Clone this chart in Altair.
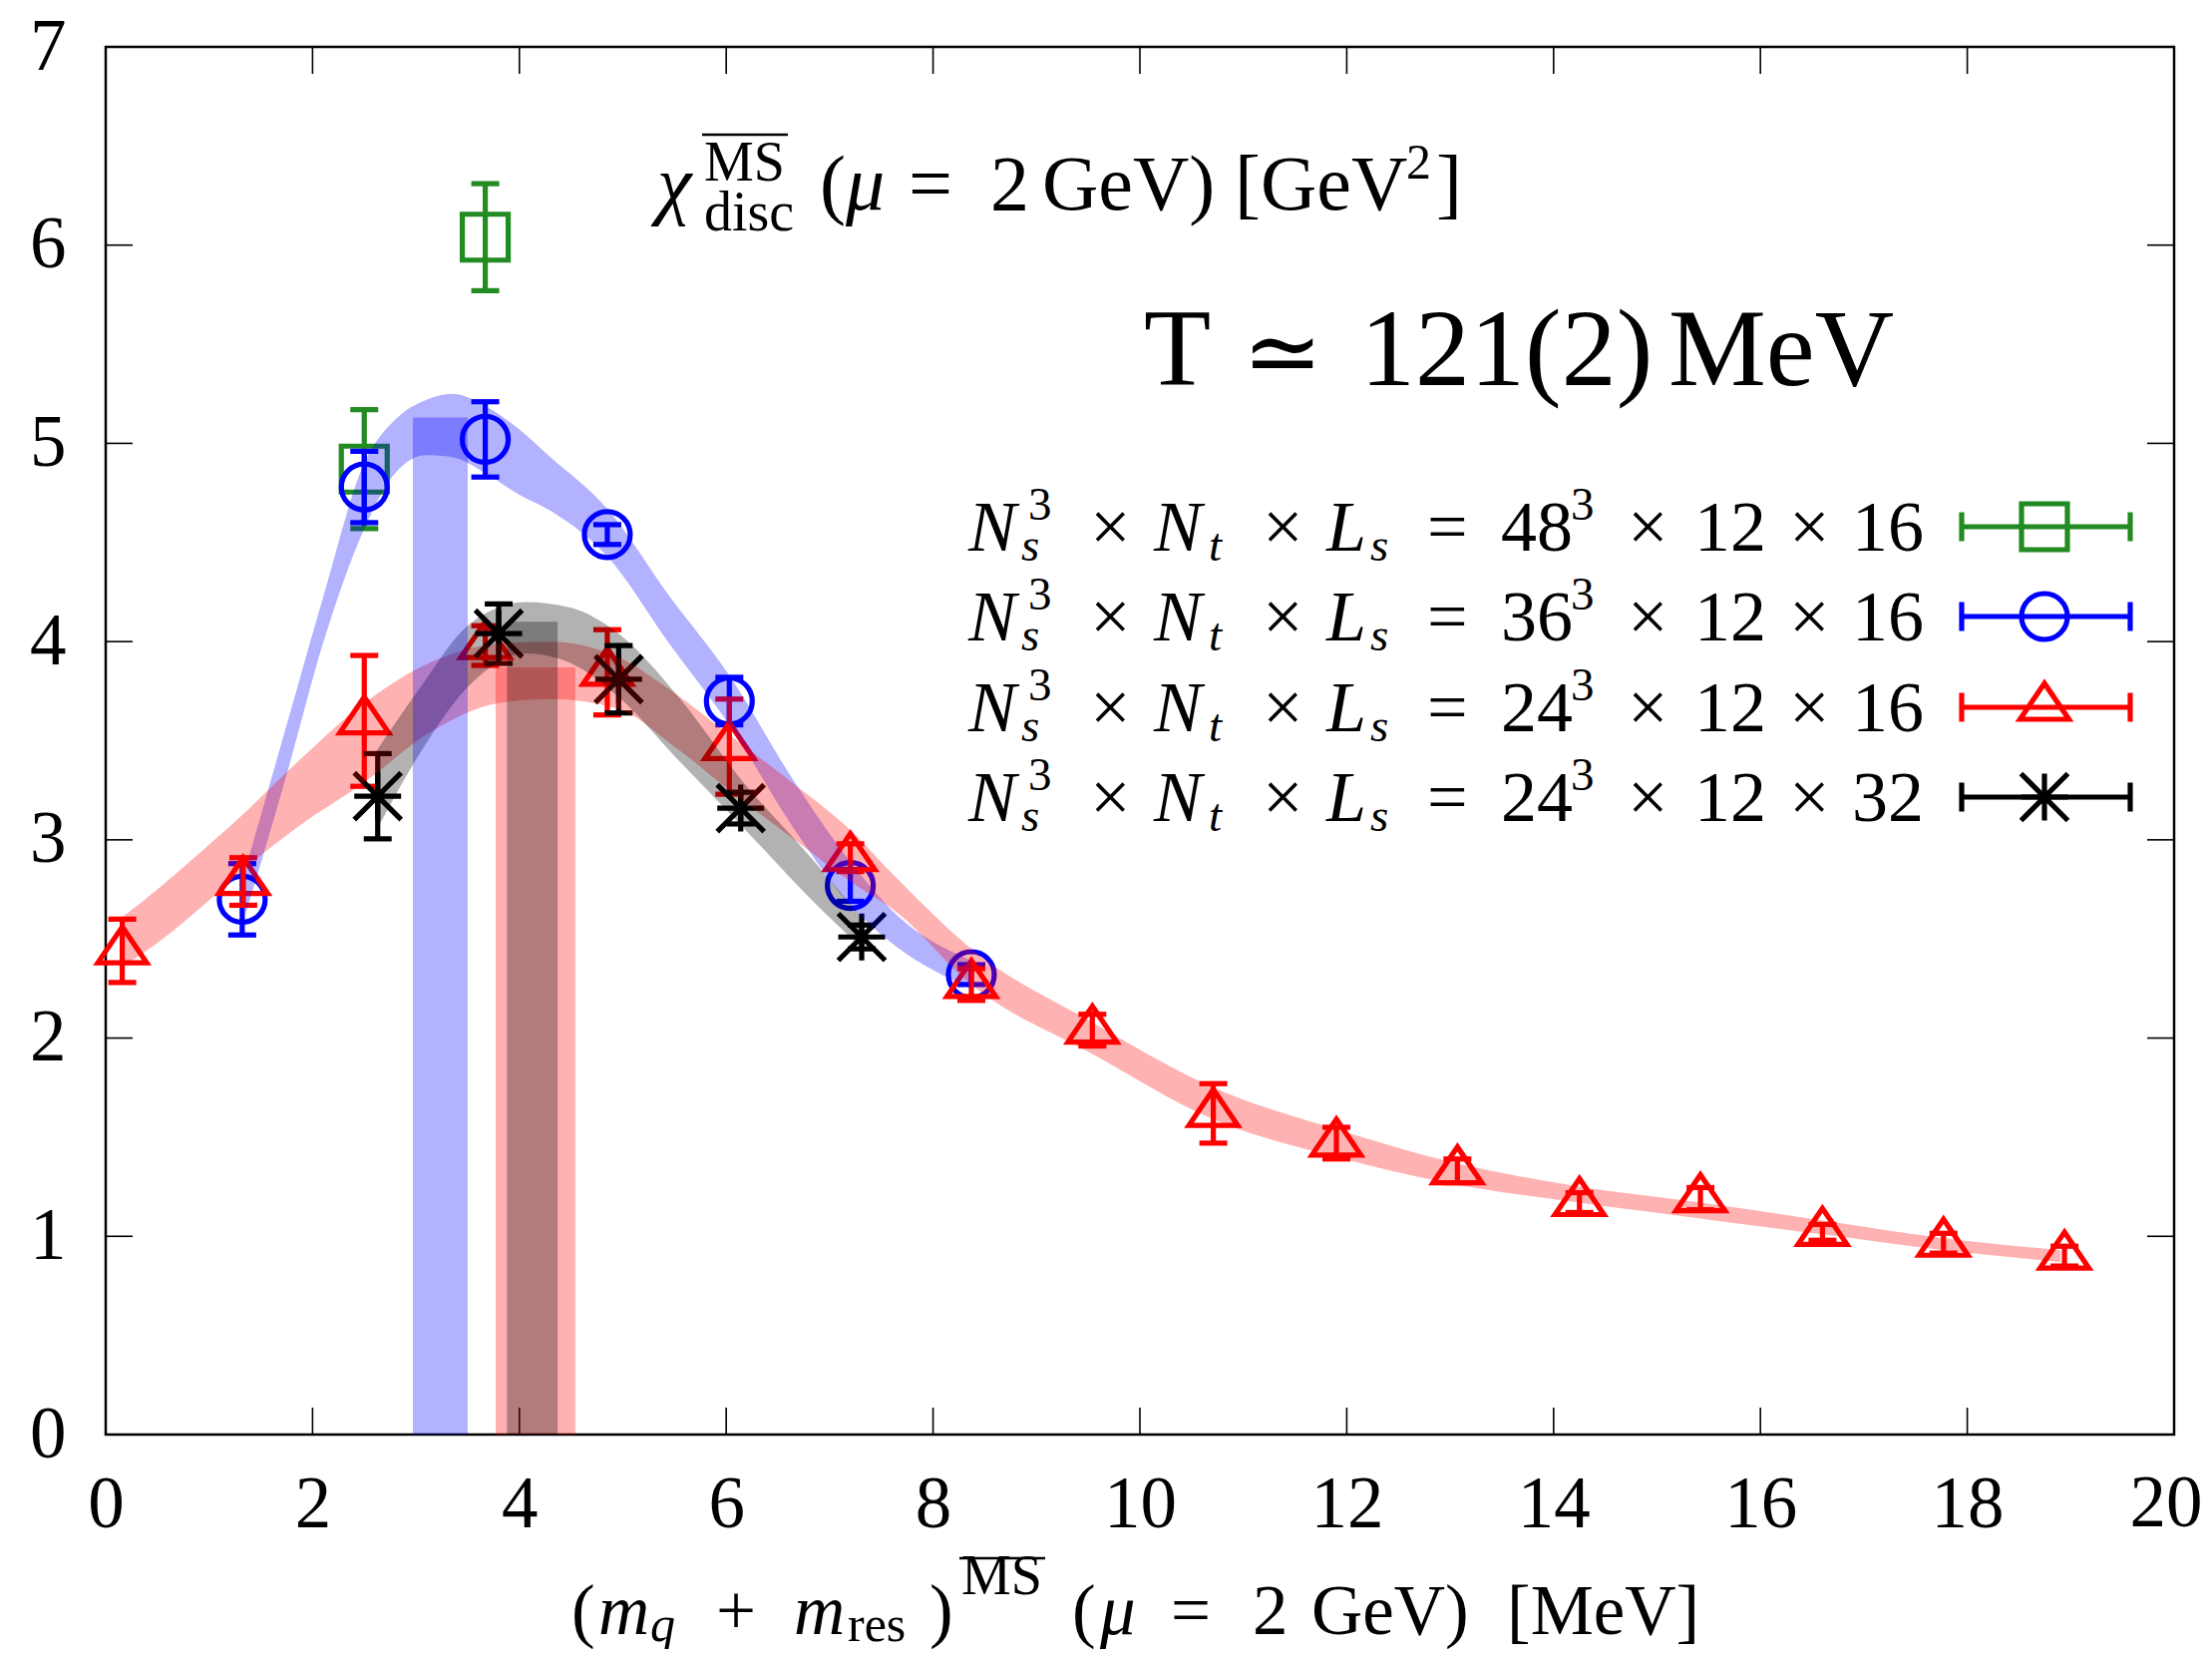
import altair as alt
import pandas as pd

# ---------------- data ----------------
x_ticks = [0, 2, 4, 6, 8, 10, 12, 14, 16, 18, 20]
y_ticks = [0, 1, 2, 3, 4, 5, 6, 7]

# N_s^3 x N_t x L_s = 48^3 x 12 x 16 (green squares)
g_x = [2.50, 3.67]
g_y = [4.87, 6.04]
g_e = [0.30, 0.27]

# 36^3 x 12 x 16 (blue circles)
b_x = [1.32, 2.50, 3.67, 4.85, 6.03, 7.20, 8.37]
b_y = [2.70, 4.78, 5.02, 4.54, 3.70, 2.77, 2.32]
b_e = [0.18, 0.18, 0.19, 0.05, 0.12, 0.08, 0.05]

# 24^3 x 12 x 16 (red triangles)
r_x = [0.16, 1.33, 2.50, 3.67, 4.85, 6.03, 7.20, 8.37, 9.54, 10.71, 11.90,
       13.07, 14.25, 15.42, 16.60, 17.77, 18.94]
r_y = [2.44, 2.79, 3.60, 3.98, 3.845, 3.47, 2.91, 2.27, 2.04, 1.62, 1.47,
       1.33, 1.17, 1.19, 1.02, 0.965, 0.90]
r_e = [0.16, 0.12, 0.33, 0.10, 0.215, 0.24, 0.07, 0.08, 0.08, 0.15, 0.08,
       0.06, 0.05, 0.056, 0.04, 0.05, 0.05]

# 24^3 x 12 x 32 (black stars)
k_x = [2.63, 3.80, 4.96, 6.14, 7.31]
k_y = [3.22, 4.04, 3.81, 3.16, 2.51]
k_e = [0.215, 0.15, 0.17, 0.08, 0.06]

# fit bands (lower / upper edges)
bb_x = [1.35, 1.75, 2.10, 2.50, 2.80, 3.10, 3.35, 3.70, 4.00, 4.30, 4.85,
        5.45, 6.03, 6.65, 7.20, 7.65, 8.37]
bb_lo = [2.62, 3.33, 3.99, 4.57, 4.85, 4.94, 4.93, 4.84, 4.74, 4.66, 4.43,
         3.99, 3.58, 3.06, 2.67, 2.46, 2.25]
bb_hi = [2.85, 3.58, 4.22, 4.90, 5.12, 5.22, 5.25, 5.18, 5.07, 4.93, 4.67,
         4.23, 3.83, 3.30, 2.89, 2.62, 2.39]

rb_x = [0.16, 0.50, 0.90, 1.33, 1.87, 2.50, 3.16, 3.80, 4.30, 4.96, 5.50,
        6.03, 6.66, 7.20, 7.66, 8.37, 9.54, 10.71, 11.90, 12.97, 14.25,
        15.42, 16.60, 17.78, 18.90]
rb_lo = [2.36, 2.48, 2.65, 2.85, 3.07, 3.29, 3.55, 3.69, 3.71, 3.66, 3.47,
         3.25, 3.00, 2.79, 2.63, 2.27, 1.92, 1.59, 1.40, 1.27, 1.17,
         1.09, 1.01, 0.93, 0.87]
rb_hi = [2.61, 2.75, 2.93, 3.13, 3.40, 3.69, 3.90, 3.99, 4.00, 3.92, 3.74,
         3.53, 3.28, 3.05, 2.80, 2.45, 2.08, 1.75, 1.54, 1.38, 1.25,
         1.17, 1.08, 0.99, 0.93]

kb_x = [2.62, 3.03, 3.50, 4.06, 4.50, 4.96, 5.54, 6.15, 6.82, 7.32]
kb_lo = [3.05, 3.43, 3.77, 3.94, 3.89, 3.72, 3.40, 3.07, 2.70, 2.45]
kb_hi = [3.45, 3.76, 4.08, 4.20, 4.17, 4.04, 3.72, 3.30, 2.91, 2.60]

# vertical bands (blue, red, gray)
vb_x1 = [2.97, 3.77, 3.88]
vb_x2 = [3.50, 4.54, 4.37]
vb_top = [5.13, 3.87, 4.10]

legend_L = ["48", "36", "24", "24"]
legend_Ls = ["16", "16", "16", "32"]

# ---------------- style ----------------
W, H = 2074, 1391
SERIF = "Liberation Serif, DejaVu Serif, serif"
GREEN, BLUE, RED, BLACK, GRAY = "#228b22", "#0000ff", "#ff0000", "#000000", "#000000"
LW = 5.2
CAP = 28
TRI = "M0,-0.98L-1,0.49L1,0.49Z"
STAR = "M-1,0L1,0M0,-1L0,1M-1,-1L1,1M-1,1L1,-1"
SIZE = {"square": 2116, "circle": 2116, TRI: 2401, STAR: 2209}
TICKFS = 73
XLPAD = 34

xs = alt.Scale(domain=[0, 20], nice=False, zero=False)
ys = alt.Scale(domain=[0, 7], nice=False, zero=False)
xaxis = alt.Axis(values=x_ticks, title=None, grid=False, domain=False, ticks=False,
                 tickSize=0, labelFont=SERIF, labelFontSize=TICKFS, labelColor=BLACK,
                 labelPadding=XLPAD, labelOverlap=False, labelFlush=False, labelAngle=0,
                 labelExpr=f"datum.value == {x_ticks[-1]} ? '' : datum.label")
yaxis = alt.Axis(values=y_ticks, title=None, grid=False, domain=False, ticks=False,
                 tickSize=0, labelFont=SERIF, labelFontSize=TICKFS, labelColor=BLACK,
                 labelPadding=40, labelOverlap=False, labelFlush=False)


def X(f):
    return alt.X(f, type="quantitative", scale=xs, axis=xaxis)


def Y(f):
    return alt.Y(f, type="quantitative", scale=ys, axis=yaxis)


DUMMY = pd.DataFrame({"a": [0]})


def series(xv, yv, ev, color, shape):
    df = pd.DataFrame({"x": xv, "y": yv, "e": ev})
    df["lo"] = df["y"] - df["e"]
    df["hi"] = df["y"] + df["e"]
    base = alt.Chart(df)
    bars = base.mark_rule(color=color, strokeWidth=LW).encode(x=X("x"), y=Y("lo"), y2="hi")
    c1 = base.mark_tick(color=color, orient="horizontal", size=CAP, thickness=LW,
                        opacity=1).encode(x=X("x"), y=Y("lo"))
    c2 = base.mark_tick(color=color, orient="horizontal", size=CAP, thickness=LW,
                        opacity=1).encode(x=X("x"), y=Y("hi"))
    pts = base.mark_point(shape=shape, size=SIZE[shape], filled=False, color=color,
                          strokeWidth=LW, opacity=1).encode(x=X("x"), y=Y("y"))
    return [bars, c1, c2, pts]


def band(xv, lo, hi, color):
    df = pd.DataFrame({"x": xv, "lo": lo, "hi": hi})
    return alt.Chart(df).mark_area(color=color, opacity=0.3, interpolate="monotone").encode(
        x=X("x"), y=Y("lo"), y2="hi")


def vrect(i, color):
    df = pd.DataFrame({"x1": [vb_x1[i]], "x2": [vb_x2[i]], "b": [0.0], "t": [vb_top[i]]})
    return alt.Chart(df).mark_rect(color=color, opacity=0.3).encode(
        x=X("x1"), x2="x2", y=Y("b"), y2="t")


def txt(s, x, y, size, italic=False, align="left"):
    return alt.Chart(DUMMY).mark_text(
        text=s, font=SERIF, fontSize=size, fontStyle="italic" if italic else "normal",
        align=align, baseline="alphabetic", color=BLACK).encode(x=alt.value(x), y=alt.value(y))


def hline(x1, x2, y, w=2.4, color=BLACK):
    return alt.Chart(DUMMY).mark_rule(color=color, strokeWidth=w).encode(
        x=alt.value(x1), x2=alt.value(x2), y=alt.value(y))


def vline(x, y1, y2, w=LW, color=BLACK):
    return alt.Chart(DUMMY).mark_rule(color=color, strokeWidth=w).encode(
        x=alt.value(x), y=alt.value(y1), y2=alt.value(y2))


def pt(x, y, color, shape):
    return alt.Chart(DUMMY).mark_point(shape=shape, size=SIZE[shape], filled=False, color=color,
                                       strokeWidth=LW, opacity=1).encode(
        x=alt.value(x), y=alt.value(y))


layers = []

# frame ticks (inward, all four sides)
TL, TW = 27, 1.6
tx = pd.DataFrame({"v": x_ticks})
ty = pd.DataFrame({"v": y_ticks})
layers.append(alt.Chart(tx).mark_rule(color=BLACK, strokeWidth=TW).encode(
    x=X("v"), y=alt.value(H - TL), y2=alt.value(H)))
layers.append(alt.Chart(tx).mark_rule(color=BLACK, strokeWidth=TW).encode(
    x=X("v"), y=alt.value(0), y2=alt.value(TL)))
layers.append(alt.Chart(ty).mark_rule(color=BLACK, strokeWidth=TW).encode(
    y=Y("v"), x=alt.value(0), x2=alt.value(TL)))
layers.append(alt.Chart(ty).mark_rule(color=BLACK, strokeWidth=TW).encode(
    y=Y("v"), x=alt.value(W - TL), x2=alt.value(W)))

# last x tick label, nudged left so it stays inside the page
last_tick = pd.DataFrame({"v": [x_ticks[-1]]})
layers.append(alt.Chart(last_tick).mark_text(
    font=SERIF, fontSize=TICKFS, baseline="top", align="center", dx=-8, color=BLACK).encode(
    x=X("v"), y=alt.value(H + XLPAD), text=alt.Text("v:Q")))

# data points
layers += series(g_x, g_y, g_e, GREEN, "square")
layers += series(b_x, b_y, b_e, BLUE, "circle")
layers += series(r_x, r_y, r_e, RED, TRI)
layers += series(k_x, k_y, k_e, BLACK, STAR)

# fit bands
layers.append(band(bb_x, bb_lo, bb_hi, BLUE))
layers.append(band(rb_x, rb_lo, rb_hi, RED))
layers.append(band(kb_x, kb_lo, kb_hi, GRAY))

# vertical bands
layers.append(vrect(0, BLUE))
layers.append(vrect(1, RED))
layers.append(vrect(2, GRAY))

# ---- chi label ----
tb = 163
layers += [
    txt("χ", 553, tb, 78, italic=True),
    txt("MS", 600, 134, 56),
    hline(598, 684, 88),
    txt("disc", 600, 184, 56),
    txt("(", 716, tb, 78),
    txt("μ", 742, tb, 78, italic=True),
    txt("=", 805, tb, 78),
    txt("2", 887, tb, 78),
    txt("GeV)", 939, tb, 78),
    txt("[GeV", 1132, tb, 78),
    txt("2", 1304, 132, 50),
    txt("]", 1334, tb, 78),
]

# ---- temperature label ----
layers += [
    txt("T", 1041, 339, 110),
    txt("≃", 1140, 339, 96),
    txt("121(2)", 1258, 339, 110),
    txt("MeV", 1567, 339, 110),
]

# ---- legend ----
row_base = [505, 595, 686, 776]
row_line = [481, 571, 662, 752]
row_col = [GREEN, BLUE, RED, BLACK]
row_shape = ["square", "circle", TRI, STAR]
FS, FSS = 72, 47
for i in range(4):
    yb = row_base[i]
    layers += [
        txt("N", 865, yb, FS, italic=True),
        txt("3", 925, yb - 31, FSS),
        txt("s", 918, yb + 10, FSS, italic=True),
        txt("×", 987, yb, FS),
        txt("N", 1051, yb, FS, italic=True),
        txt("t", 1106, yb + 10, FSS, italic=True),
        txt("×", 1160, yb, FS),
        txt("L", 1224, yb, FS, italic=True),
        txt("s", 1268, yb + 10, FSS, italic=True),
        txt("=", 1325, yb, FS),
        txt(legend_L[i], 1399, yb, FS),
        txt("3", 1469, yb - 31, FSS),
        txt("×", 1526, yb, FS),
        txt("12", 1593, yb, FS),
        txt("×", 1688, yb, FS),
        txt(legend_Ls[i], 1751, yb, FS),
    ]
    yl = row_line[i]
    layers += [
        hline(1861, 2030, yl, w=LW, color=row_col[i]),
        vline(1861, yl - 14.5, yl + 14.5, color=row_col[i]),
        vline(2030, yl - 14.5, yl + 14.5, color=row_col[i]),
        pt(1944, yl, row_col[i], row_shape[i]),
    ]

# ---- x-axis title ----
mb, sb, pb = 1591, 1598, 1551
layers += [
    txt("(", 467, mb, 71),
    txt("m", 494, mb, 71, italic=True),
    txt("q", 546, sb, 50, italic=True),
    txt("+", 612, mb, 71),
    txt("m", 690, mb, 71, italic=True),
    txt("res", 744, sb, 50),
    txt(")", 826, mb, 71),
    txt("MS", 858, pb, 56),
    hline(856, 942, 1515),
    txt("(", 969, mb, 71),
    txt("μ", 997, mb, 71, italic=True),
    txt("=", 1068, mb, 71),
    txt("2", 1150, mb, 71),
    txt("GeV)", 1209, mb, 71),
    txt("[MeV]", 1405, mb, 71),
]

chart = alt.layer(*layers).properties(
    width=W, height=H,
    autosize=alt.AutoSizeParams(type="none"),
    padding={"left": 98, "top": 39, "right": 30, "bottom": 215},
).configure_view(stroke=BLACK, strokeWidth=2.5)

chart.save("out.html", embed_options={"renderer": "svg", "actions": False})
